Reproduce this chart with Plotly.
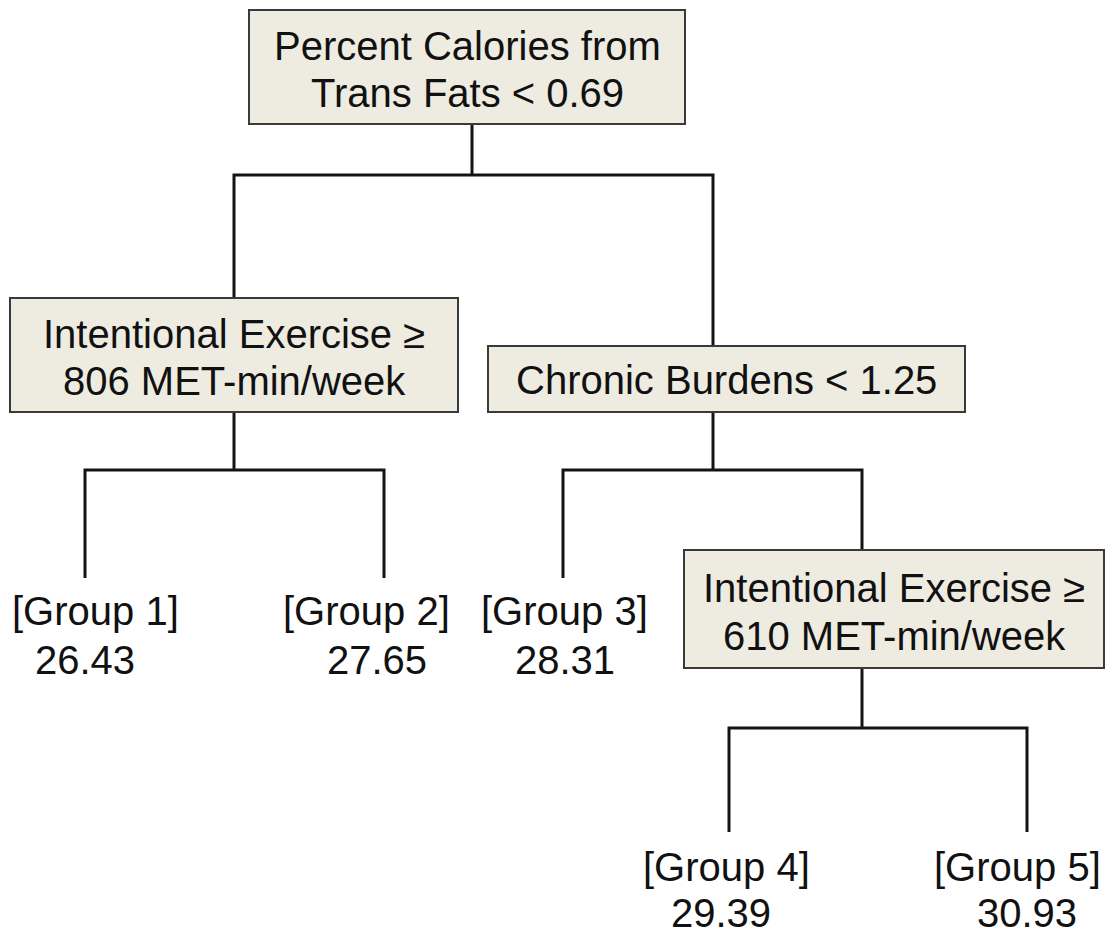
import plotly.graph_objects as go

# ---- data ----
split_labels = [
    ["Percent Calories from", "Trans Fats < 0.69"],
    ["Intentional Exercise ≥", "806 MET-min/week"],
    ["Chronic Burdens < 1.25"],
    ["Intentional Exercise ≥", "610 MET-min/week"],
]
group_labels = ["[Group 1]", "[Group 2]", "[Group 3]", "[Group 4]", "[Group 5]"]
group_means = [26.43, 27.65, 28.31, 29.39, 30.93]

# ---- layout geometry (pixel-like coordinates, y downward) ----
W, H = 1119, 933
PAGE_MARGIN = 8  # default body margin of the html page
box_x0 = [249, 10, 488, 684]
box_x1 = [685, 458, 965, 1104]
box_y0 = [10, 298, 346, 550]
box_y1 = [124, 412, 412, 668]
text_line_y = [[46, 93], [334, 381], [380], [588, 636]]

conn_stem_x = [472, 234, 713, 862]
conn_bar_y = [175, 470, 470, 728]
conn_left_x = [234, 85, 563, 729]
conn_right_x = [713, 384, 862, 1027]
conn_left_end = [298, 578, 578, 832]
conn_right_end = [346, 578, 550, 832]

leaf_label_x = [10, 281, 479, 641, 932]
leaf_value_x = [33, 325, 513, 669, 975]
leaf_label_y = [611, 611, 611, 867, 867]
leaf_value_y = [660, 660, 660, 913, 913]

FONT = "Arial, 'Liberation Sans', sans-serif"
FS = 40
TXT = "#111111"

fig = go.Figure()

xs, ys = [], []
for i in range(4):
    xs += [conn_stem_x[i], conn_stem_x[i], None]
    ys += [box_y1[i], conn_bar_y[i], None]
    xs += [conn_left_x[i], conn_left_x[i], conn_right_x[i], conn_right_x[i], None]
    ys += [conn_left_end[i], conn_bar_y[i], conn_bar_y[i], conn_right_end[i], None]
fig.add_trace(go.Scatter(x=xs, y=ys, mode="lines",
                         line=dict(color="#141414", width=3),
                         hoverinfo="skip", showlegend=False))

shapes = []
annotations = []
for i, lines in enumerate(split_labels):
    shapes.append(dict(type="rect", xref="x", yref="y",
                       x0=box_x0[i], x1=box_x1[i], y0=box_y0[i], y1=box_y1[i],
                       fillcolor="#EEEBE1", line=dict(color="#3a3a3a", width=2),
                       layer="above"))
    cx = (box_x0[i] + box_x1[i]) / 2
    for t, ty in zip(lines, text_line_y[i]):
        annotations.append(dict(x=cx, y=ty, xref="x", yref="y", text=t,
                                showarrow=False, xanchor="center", yanchor="middle",
                                font=dict(family=FONT, size=FS, color=TXT)))

for lab, val, lx, vx, ly, vy in zip(group_labels, group_means, leaf_label_x,
                                     leaf_value_x, leaf_label_y, leaf_value_y):
    annotations.append(dict(x=lx, y=ly, xref="x", yref="y", text=lab,
                            showarrow=False, xanchor="left", yanchor="middle",
                            font=dict(family=FONT, size=FS, color=TXT)))
    annotations.append(dict(x=vx, y=vy, xref="x", yref="y", text=f"{val:.2f}",
                            showarrow=False, xanchor="left", yanchor="middle",
                            font=dict(family=FONT, size=FS, color=TXT)))

fig.update_layout(
    width=W - PAGE_MARGIN, height=H - PAGE_MARGIN,
    margin=dict(l=0, r=0, t=0, b=0),
    paper_bgcolor="white", plot_bgcolor="white",
    xaxis=dict(range=[PAGE_MARGIN, W], visible=False, fixedrange=True),
    yaxis=dict(range=[H, PAGE_MARGIN], visible=False, fixedrange=True),
    shapes=shapes, annotations=annotations,
)

fig.write_html("out.html")
